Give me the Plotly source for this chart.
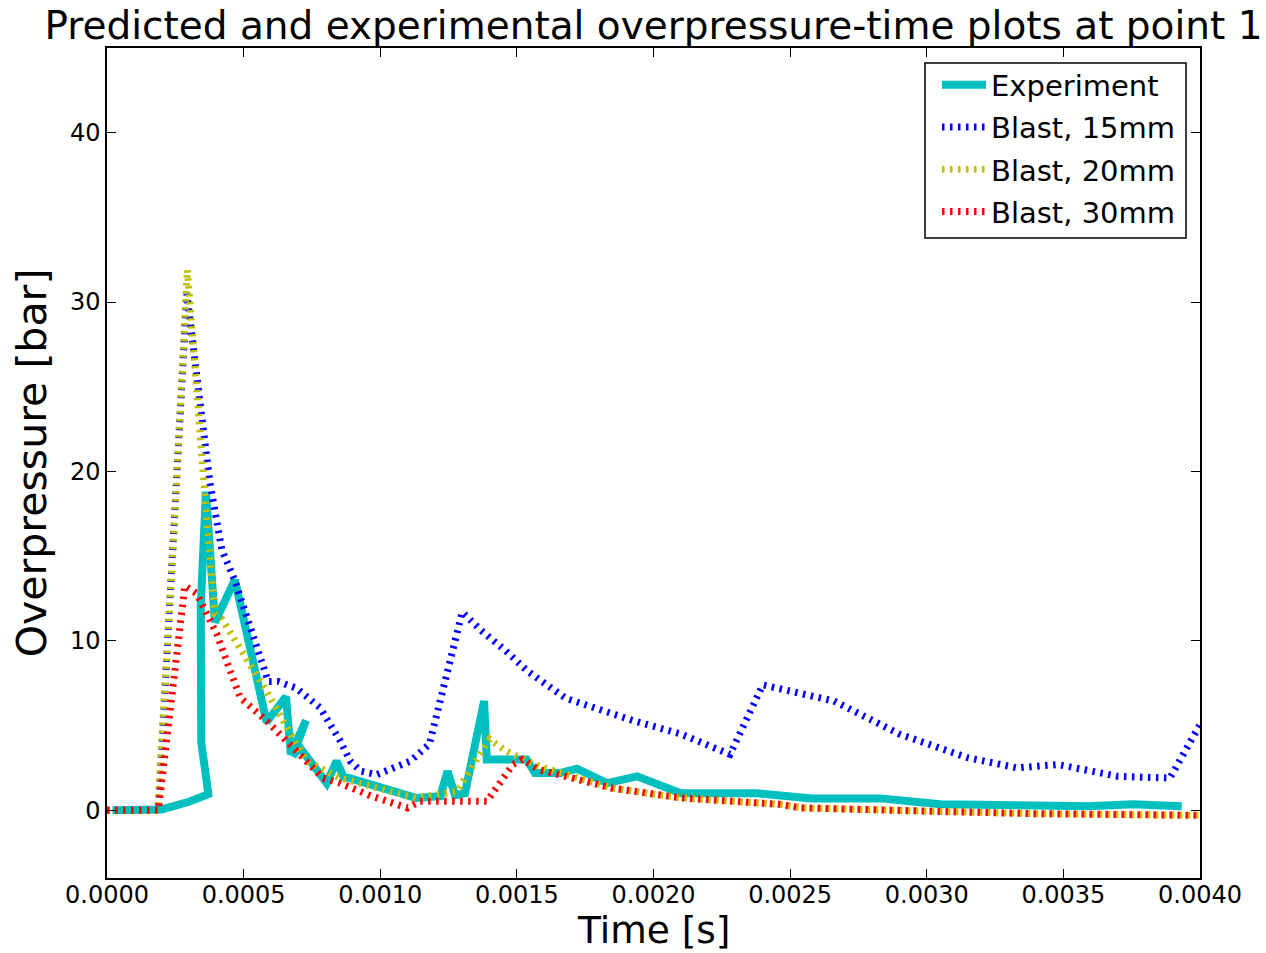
import plotly.graph_objects as go

# ---- data ----
exp_t = [0.00002, 0.0002, 0.0003, 0.000371, 0.000345, 0.000343, 0.000362, 0.000395, 0.000468,
         0.000584, 0.000655, 0.000673, 0.000728, 0.00068, 0.000706, 0.000804, 0.00084, 0.000865,
         0.00097, 0.00113, 0.00122, 0.001246, 0.001274, 0.00131, 0.00138, 0.00139, 0.001536,
         0.001566, 0.00166, 0.00172, 0.00183, 0.00194, 0.0021, 0.00238, 0.00258, 0.00283,
         0.00305, 0.00339, 0.00359, 0.003755, 0.003933]
exp_p = [0.0, 0.05, 0.5, 0.95, 4.0, 12.0, 18.8, 11.1, 13.6,
         5.2, 6.7, 3.3, 5.3, 3.2, 3.7, 1.6, 2.9, 2.0,
         1.5, 0.73, 0.83, 2.3, 0.89, 1.0, 6.45, 3.0, 3.0,
         2.2, 2.2, 2.45, 1.6, 2.0, 1.0, 1.0, 0.7, 0.7,
         0.35, 0.3, 0.24, 0.35, 0.24]

b15_t = [0.0, 0.000188, 0.000292, 0.000316, 0.000347, 0.000377, 0.00042, 0.000468, 0.000524,
         0.00059, 0.000626, 0.000694, 0.00078, 0.000853, 0.00089, 0.00093, 0.000987, 0.00111,
         0.00118, 0.0013, 0.00137, 0.00146, 0.00154, 0.00168, 0.00193, 0.0021, 0.00228,
         0.0024, 0.00266, 0.0029, 0.00315, 0.00333, 0.00348, 0.0037, 0.00389, 0.004]
b15_p = [0.0, 0.0, 30.5, 27.0, 23.2, 19.3, 15.4, 13.55, 10.8,
         7.6, 7.6, 7.2, 6.05, 4.1, 2.9, 2.3, 2.1, 2.9,
         3.9, 11.7, 10.6, 9.4, 8.2, 6.6, 5.27, 4.5, 3.3,
         7.4, 6.45, 4.5, 3.1, 2.5, 2.7, 2.0, 1.9, 5.06]

b20_t = [0.0, 0.000185, 0.000243, 0.000294, 0.00037, 0.000395, 0.00042, 0.000585, 0.000658,
         0.00073, 0.000853, 0.00097, 0.00113, 0.00128, 0.0014, 0.00146, 0.00158, 0.00185,
         0.0021, 0.00246, 0.00254, 0.00302, 0.00339, 0.004]
b20_p = [0.0, 0.0, 15.7, 31.9, 16.2, 11.6, 11.3, 7.0, 4.9,
         2.9, 1.9, 1.4, 0.73, 1.1, 4.2, 3.5, 2.6, 1.3,
         0.73, 0.35, 0.14, -0.06, -0.2, -0.3]

b30_t = [0.0, 0.000188, 0.000285, 0.000328, 0.000402, 0.000487, 0.000585, 0.00067, 0.00079,
         0.000853, 0.000965, 0.0011, 0.001146, 0.00139, 0.001486, 0.00152, 0.00158, 0.00185,
         0.0021, 0.00246, 0.00254, 0.00302, 0.00339, 0.004]
b30_p = [0.0, 0.0, 13.25, 12.8, 10.4, 6.65, 5.27, 3.9, 1.9,
         1.6, 0.85, 0.14, 0.53, 0.53, 2.7, 3.0, 2.4, 1.3,
         0.73, 0.35, 0.14, -0.06, -0.2, -0.3]

x_ticks = [0.0, 0.0005, 0.001, 0.0015, 0.002, 0.0025, 0.003, 0.0035, 0.004]
x_tick_labels = ["0.0000", "0.0005", "0.0010", "0.0015", "0.0020", "0.0025", "0.0030", "0.0035", "0.0040"]
y_ticks = [0, 10, 20, 30, 40]
y_tick_labels = ["0", "10", "20", "30", "40"]

FONT = "DejaVu Sans"
DOT = "2.5px,5.5px"

fig = go.Figure()
fig.add_trace(go.Scatter(x=exp_t, y=exp_p, mode="lines", name="Experiment", legendgroup="a",
                         line=dict(color="#00bfbf", width=8)))
fig.add_trace(go.Scatter(x=b15_t, y=b15_p, mode="lines", name="Blast, 15mm", legendgroup="b",
                         line=dict(color="#0000ff", width=7, dash=DOT)))
fig.add_trace(go.Scatter(x=b20_t, y=b20_p, mode="lines", name="Blast, 20mm", legendgroup="c",
                         line=dict(color="#bfbf00", width=7, dash=DOT)))
fig.add_trace(go.Scatter(x=b30_t, y=b30_p, mode="lines", name="Blast, 30mm", legendgroup="d",
                         line=dict(color="#ff0000", width=7, dash=DOT)))

axis_common = dict(showgrid=False, zeroline=False, showline=True, linecolor="black", linewidth=1.5,
                   mirror="ticks", ticks="inside", ticklen=9, tickwidth=1, tickcolor="black",
                   automargin=False,
                   tickfont=dict(family=FONT, size=24, color="black"))

# plot-area geometry in pixels (for converting a few decorations to paper coords)
L, R, T, B = 107, 1200, 48, 878
PW, PH = R - L, B - T

def px_x(p):
    return (p - L) / PW

def px_y(p):
    return (B - p) / PH

fig.update_layout(
    width=1266, height=953,
    margin=dict(l=L, r=1266 - R, t=T, b=953 - B),
    paper_bgcolor="white", plot_bgcolor="white",
    font=dict(family=FONT, color="black"),
    title=dict(text="Predicted and experimental overpressure-time plots at point 1",
               font=dict(family=FONT, size=39, color="black"),
               x=(L + R) / 2 / 1266, xanchor="center",
               y=1 - 25 / 953, yanchor="middle", yref="container"),
    xaxis=dict(range=[0, 0.004], tickvals=x_ticks, ticktext=x_tick_labels,
               ticklabelstandoff=-6, **axis_common),
    yaxis=dict(range=[-4, 45], tickvals=y_ticks, ticktext=y_tick_labels,
               title=dict(text="Overpressure [bar]", font=dict(family=FONT, size=41), standoff=11),
               **axis_common),
    legend=dict(x=px_x(937), xanchor="left", y=px_y(59.5), yanchor="top",
                bgcolor="rgba(0,0,0,0)", borderwidth=0,
                font=dict(family=FONT, size=29, color="black"),
                tracegroupgap=1.5, itemwidth=44),
    showlegend=True,
    shapes=[dict(type="rect", xref="paper", yref="paper", layer="above",
                 x0=px_x(925), x1=px_x(1186), y0=px_y(238), y1=px_y(63),
                 fillcolor="white", line=dict(color="black", width=1.5))],
    annotations=[dict(text="Time [s]", xref="paper", yref="paper", x=0.5, y=px_y(930.5),
                      xanchor="center", yanchor="middle", showarrow=False,
                      font=dict(family=FONT, size=37.5, color="black"))],
)

fig.write_html("out.html")
